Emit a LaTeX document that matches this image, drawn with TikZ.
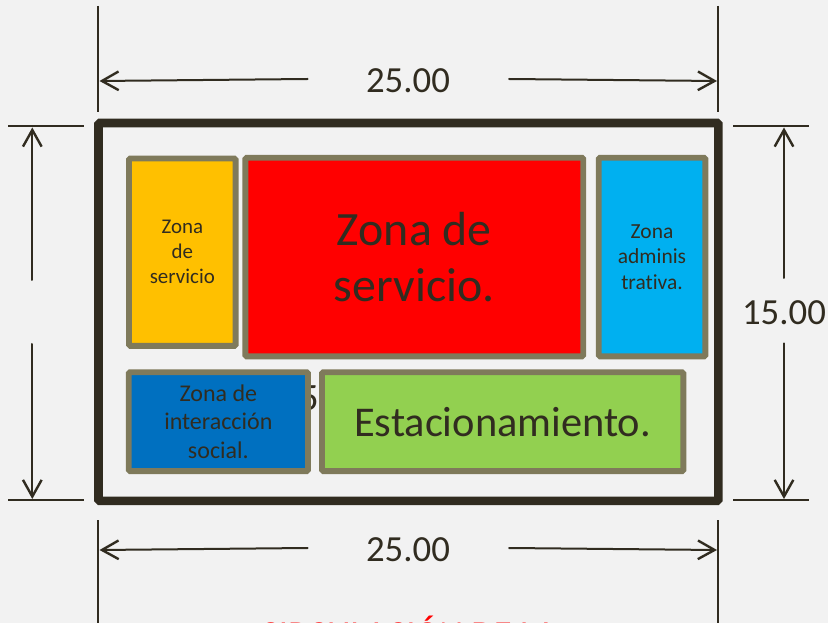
\documentclass[tikz,border=0pt]{standalone}
\usepackage{fontspec}
\setmainfont[Ligatures=NoCommon]{Carlito}
\usetikzlibrary{arrows.meta}
\definecolor{inkdark}{HTML}{312C20}
\definecolor{zoneedge}{HTML}{7F7A5B}
\definecolor{pagegray}{HTML}{F2F2F2}
\definecolor{zoneyellow}{HTML}{FFC000}
\definecolor{zonecyan}{HTML}{00B0F0}
\definecolor{zoneblue}{HTML}{0070C0}
\definecolor{zonegreen}{HTML}{92D050}
\tikzset{
  zone/.style={draw=zoneedge,line width=4.4pt,rounded corners=1pt,text=inkdark,align=center,inner sep=0pt,outer sep=0pt,anchor=north west},
  dimline/.style={draw=inkdark,line width=1.7pt},
  dimarrow/.style={draw=inkdark,line width=1.5pt,line cap=round,-{Straight Barb[length=12.5pt,width=14pt,line width=1.8pt]}},
  dimtext/.style={text=inkdark,font=\fontsize{27.6}{30}\selectfont,inner sep=0pt}
}
\begin{document}
\begin{tikzpicture}[x=0.75pt,y=-0.75pt]
  \fill[pagegray] (0,0) rectangle (828,623);
  \useasboundingbox (0,0) rectangle (828,623);
  % outer wall
  \node (wall) [draw=inkdark,line width=6.4pt,rounded corners=1pt,minimum width=464.85pt,minimum height=283.35pt,inner sep=0pt,outer sep=0pt,anchor=north west] at (98.5,123) {};
  % zones
  \node (yellow) [zone,fill=zoneyellow,minimum width=80pt,minimum height=140.5pt,font=\fontsize{15.7}{18.75}\selectfont] at (129,158.5) {Zona\\de\\servicio};
  \node (red) [zone,fill=red,minimum width=253.4pt,minimum height=149pt,font=\fontsize{35.9}{42}\selectfont] at (245.4,157.7) {Zona de\\servicio.};
  \node (cyan) [zone,fill=zonecyan,minimum width=80pt,minimum height=149pt,font=\fontsize{16.1}{19}\selectfont] at (598.7,157.7) {Zona\\adminis\\trativa.};
  \node (hidden) [dimtext,font=\fontsize{29}{30}\selectfont] at (309.5,398) {5};
  \node (blue) [zone,fill=zoneblue,minimum width=134.5pt,minimum height=74.2pt,font=\fontsize{18}{21.4}\selectfont] at (128.7,372.2) {Zona de\\interacción\\social.};
  \node (green) [zone,fill=zonegreen,minimum width=271pt,minimum height=74.2pt,font=\fontsize{31.8}{36}\selectfont] at (322,372.2) {Estacionamiento.};
  % top
  \coordinate (ta) at (98.3,6);
  \coordinate (tb) at (98.3,111.7);
  \coordinate (tc) at (718.3,6);
  \coordinate (td) at (718.3,111.7);
  \draw[dimline] (ta) -- (tb);
  \draw[dimline] (tc) -- (td);
  \node (toplabel) [dimtext] at (408,81) {25.00};
  \coordinate (tl) at (307.7,79);
  \coordinate (tr) at (509,79);
  \coordinate (tlend) at (99.5,81);
  \coordinate (trend) at (717,81);
  \draw[dimarrow] (tl) -- (tlend);
  \draw[dimarrow] (tr) -- (trend);
  % bottom
  \coordinate (ba) at (98.3,520);
  \coordinate (bb) at (98.3,623);
  \coordinate (bc) at (718.3,520);
  \coordinate (bd) at (718.3,623);
  \draw[dimline] (ba) -- (bb);
  \draw[dimline] (bc) -- (bd);
  \node (bottomlabel) [dimtext] at (408,550) {25.00};
  \coordinate (bl) at (307.7,548);
  \coordinate (br) at (509,548);
  \coordinate (blend) at (99.5,550);
  \coordinate (brend) at (717,550);
  \draw[dimarrow] (bl) -- (blend);
  \draw[dimarrow] (br) -- (brend);
  % left
  \coordinate (la) at (8.3,126.3);
  \coordinate (lb) at (84,126.3);
  \coordinate (lc) at (8.3,500.3);
  \coordinate (ld) at (84,500.3);
  \draw[dimline] (la) -- (lb);
  \draw[dimline] (lc) -- (ld);
  \coordinate (lup) at (32.3,280);
  \coordinate (lupend) at (32.3,127.5);
  \coordinate (ldn) at (32.3,344);
  \coordinate (ldnend) at (32.3,499);
  \draw[dimarrow] (lup) -- (lupend);
  \draw[dimarrow] (ldn) -- (ldnend);
  % right
  \coordinate (ra) at (733.3,126.3);
  \coordinate (rb) at (809,126.3);
  \coordinate (rc) at (733.3,500.3);
  \coordinate (rd) at (809,500.3);
  \draw[dimline] (ra) -- (rb);
  \draw[dimline] (rc) -- (rd);
  \node (rightlabel) [dimtext] at (784,312.5) {15.00};
  \coordinate (rup) at (784,278);
  \coordinate (rupend) at (784,127.5);
  \coordinate (rdn) at (784,343.3);
  \coordinate (rdnend) at (784,499);
  \draw[dimarrow] (rup) -- (rupend);
  \draw[dimarrow] (rdn) -- (rdnend);
  % cut off title
  \node (title) [text=red,font=\fontsize{27.4}{30}\selectfont,inner sep=0pt,anchor=base] at (408,646) {CIRCULACIÓN DE LA};
\end{tikzpicture}
\end{document}
